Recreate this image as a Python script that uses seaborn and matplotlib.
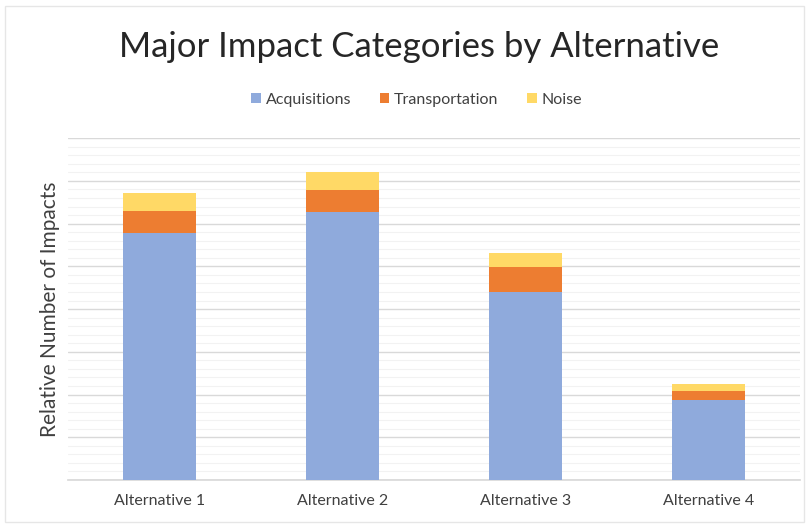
import matplotlib
matplotlib.use("Agg")
import matplotlib.pyplot as plt
import seaborn as sns
import numpy as np
import pandas as pd
from matplotlib.patches import Patch, Rectangle
from matplotlib.ticker import MultipleLocator

categories = ["Alternative 1", "Alternative 2", "Alternative 3", "Alternative 4"]
acquisitions = [5.78, 6.28, 4.40, 1.87]
transportation = [0.51, 0.50, 0.59, 0.21]
noise = [0.43, 0.42, 0.33, 0.17]
series_names = ["Acquisitions", "Transportation", "Noise"]
colors = ["#8FAADC", "#ED7D31", "#FFD966"]

sns.set_theme(style="white")
plt.rcParams["font.family"] = ["Lato", "DejaVu Sans"]

df = pd.DataFrame({"cat": categories,
                   "Acquisitions": acquisitions,
                   "Transportation": transportation,
                   "Noise": noise})
df["c1"] = df["Acquisitions"]
df["c2"] = df["c1"] + df["Transportation"]
df["c3"] = df["c2"] + df["Noise"]

fig = plt.figure(figsize=(8.09, 5.25), dpi=100)
ax = fig.add_axes([0.084, 0.0857, 0.905, 0.651])

for col, color in zip(["c3", "c2", "c1"], colors[::-1]):
    sns.barplot(data=df, x="cat", y=col, color=color, width=0.4,
                saturation=1, ax=ax, zorder=3, linewidth=0)

ax.set_ylim(0, 8)
ax.yaxis.set_major_locator(MultipleLocator(1))
ax.yaxis.set_minor_locator(MultipleLocator(0.2))
ax.grid(axis="y", which="major", color="#D9D9D9", linewidth=1.0, zorder=0)
ax.grid(axis="y", which="minor", color="#F2F2F2", linewidth=0.8, zorder=0)
ax.set_axisbelow(True)
ax.tick_params(axis="y", which="both", left=False, labelleft=False)
ax.tick_params(axis="x", length=0, labelsize=11.5, labelcolor="#404040", pad=10)
for s in ["top", "right", "left"]:
    ax.spines[s].set_visible(False)
ax.spines["bottom"].set_color("#D9D9D9")
ax.set_xlabel("")
ax.set_ylabel("Relative Number of Impacts", fontsize=15, color="#404040", labelpad=6)

fig.text(0.518, 0.91, "Major Impact Categories by Alternative", ha="center", va="center",
         fontsize=25, color="#262626")

handles = [Patch(facecolor=c, edgecolor="none") for c in colors]
fig.legend(handles, series_names, loc="center", bbox_to_anchor=(0.515, 0.81), ncol=3,
           frameon=False, fontsize=11.5, handlelength=0.6, handleheight=0.6,
           handletextpad=0.3, columnspacing=1.8, labelcolor="#404040")

fig.patches.append(Rectangle((0.006, 0.006), 0.988, 0.982, transform=fig.transFigure,
                             fill=False, edgecolor="#E6E6E6", linewidth=1))

fig.savefig("out.png", dpi=100)
